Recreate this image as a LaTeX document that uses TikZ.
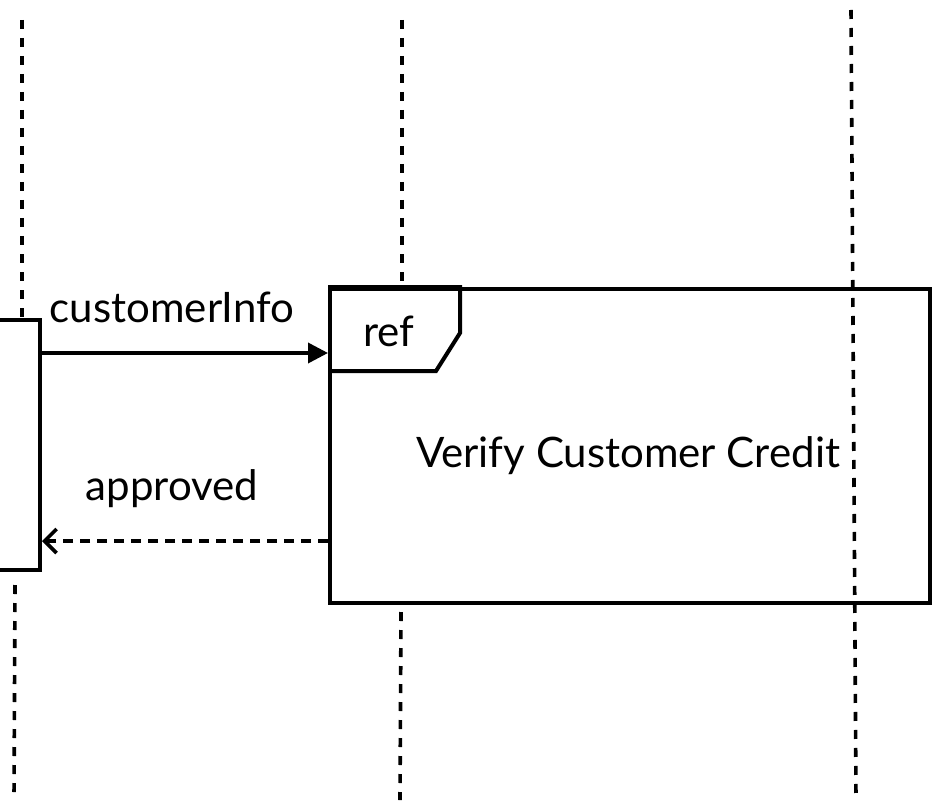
\documentclass[tikz,border=0pt]{standalone}
\usepackage{fontspec}
\setmainfont{Lato}
\usetikzlibrary{arrows.meta}
\tikzset{
  lifeline/.style={
    line width=3.6pt,
    dash pattern=on 9pt off 9pt
  },
  activation/.style={
    draw,
    line width=4pt,
    fill=white,
    rectangle,
    inner sep=0pt
  },
  frame box/.style={
    draw,
    line width=4pt,
    rectangle,
    inner sep=0pt,
    minimum width=600pt,
    minimum height=314pt
  },
  call/.style={
    -{Triangle[length=20pt,width=20pt]},
    line width=3.6pt
  },
  reply/.style={
    -{Straight Barb[length=12pt,width=24pt,line width=3.6pt]},
    line width=3.6pt,
    dash pattern=on 10pt off 7pt
  },
  msg label/.style={
    anchor=base,
    font=\fontsize{42}{48}\selectfont,
    inner sep=0pt
  }
}

\begin{document}
\begin{tikzpicture}[x=1pt, y=-1pt]
    \useasboundingbox (0,0) rectangle (936,810);

    % 1. 生命线
    \draw[lifeline] (22,20) -- (22,320);
    \draw[lifeline] (15,585) -- (14,800);
    \draw[lifeline] (402,20) -- (402,288);
    \draw[lifeline] (401,612) -- (400,800);

    % 2. 激活条与引用框
    \node[activation, minimum width=70pt, minimum height=250pt] (act) at (5,445) {};
    \node[frame box] (verify) at (630,446) {};
    \node[msg label] (title) at (628,467) {Verify Customer Credit};

    % 右侧生命线穿过引用框
    \draw[lifeline] (851,10) -- (856,800);

    % 3. ref 标签
    \draw[line width=4pt, line join=miter]
      (verify.north west) -- ++(132,0) -- ++(0,46) -- ++(-24,38) -- ++(-108,0);
    \node[msg label] (reftag) at (389,346) {ref};

    % 4. 消息
    \coordinate (callY) at (0,353);
    \coordinate (replyY) at (0,541);
    \draw[call] (act.east |- callY) -- (verify.west |- callY);
    \node[msg label] (callname) at (172,322) {customerInfo};
    \draw[reply] (verify.west |- replyY) -- (act.east |- replyY);
    \node[msg label] (replyname) at (172,500) {approved};

\end{tikzpicture}
\end{document}
